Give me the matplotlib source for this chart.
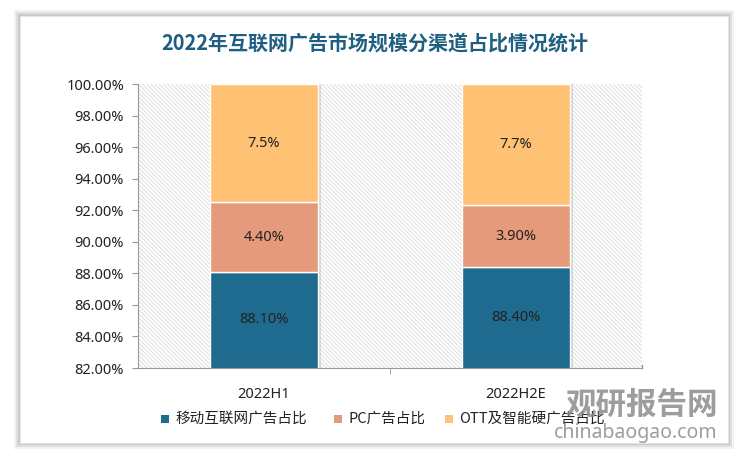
import matplotlib
matplotlib.use("Agg")
import matplotlib.pyplot as plt
from matplotlib.patches import Rectangle
from matplotlib.ticker import FuncFormatter

plt.rcParams['font.family'] = ['Noto Sans CJK SC', 'DejaVu Sans']
plt.rcParams['hatch.linewidth'] = 0.7

categories = ['2022H1', '2022H2E']
mobile = [88.10, 88.40]
pc = [4.40, 3.90]
ott = [7.5, 7.7]
series_names = ['移动互联网广告占比', 'PC广告占比', 'OTT及智能硬广告占比']
colors = ['#1F6B8F', '#E59B7B', '#FFC275']
title = '2022年互联网广告市场规模分渠道占比情况统计'

W, H = 750, 461
fig = plt.figure(figsize=(7.5, 4.61), dpi=100)
fig.patch.set_facecolor('white')

# card with shadow
for i, a in enumerate([0.05, 0.07, 0.10]):
    d = 6 - 2 * i
    fig.patches.append(Rectangle(((20 - d) / W, 1 - (443 + d) / H), (708 + 2 * d) / W,
                                 (427 + 2 * d) / H, transform=fig.transFigure,
                                 facecolor='black', alpha=a, edgecolor='none', zorder=0))
fig.patches.append(Rectangle((20 / W, 1 - 443 / H), 708 / W, 427 / H,
                             transform=fig.transFigure, facecolor='white',
                             edgecolor='#e6e6e6', lw=0.8, zorder=0.5))

ax = fig.add_axes([138 / W, 1 - 368 / H, 504 / W, 284 / H])
ax.set_zorder(2)
ax.patch.set_alpha(0)
x = list(range(len(categories)))
ax.set_xlim(-0.5, len(categories) - 0.5)
ax.set_ylim(82, 100)

# hatched background
ax.add_patch(Rectangle((-0.5, 82), len(categories), 18, facecolor='white',
                       hatch='\\' * 8, edgecolor='#dedede', lw=0, zorder=0))

bw = 0.43
bottoms = [0] * len(categories)
for vals, col, fmt in [(mobile, colors[0], '{:.2f}%'), (pc, colors[1], '{:.2f}%'),
                       (ott, colors[2], '{:.1f}%')]:
    # shadow
    ax.bar([xi + 0.012 for xi in x], vals, bw, bottom=bottoms, color='#bbbbbb',
           alpha=0.5, zorder=1, edgecolor='none')
    ax.bar(x, vals, bw, bottom=bottoms, color=col, edgecolor='white', lw=1.0, zorder=2)
    for xi, v, b in zip(x, vals, bottoms):
        lo = max(b, 82)
        hi = min(b + v, 100)
        ax.text(xi, (lo + hi) / 2, fmt.format(v), ha='center', va='center',
                fontsize=10.5, color='#222222', zorder=3, family=['Noto Sans', 'DejaVu Sans'])
    bottoms = [b + v for b, v in zip(bottoms, vals)]

ax.set_yticks([82 + 2 * i for i in range(10)])
ax.yaxis.set_major_formatter(FuncFormatter(lambda v, p: f'{v:.2f}%'))
ax.set_xticks(x)
ax.set_xticklabels(categories)
ax.set_xticks([0.5], minor=True)
ax.tick_params(axis='x', which='major', length=0, pad=14, labelsize=10.5, labelcolor='#222222')
ax.tick_params(axis='x', which='minor', length=4, color='#999999')
ax.tick_params(axis='y', length=4, color='#999999', labelsize=10.5, labelcolor='#222222', pad=6)
for lab in ax.get_xticklabels() + ax.get_yticklabels():
    lab.set_family(['Noto Sans', 'DejaVu Sans'])
for s in ['top', 'right']:
    ax.spines[s].set_visible(False)
ax.spines['left'].set_color('#999999')
ax.spines['bottom'].set_color('#999999')
ax.plot([1.5, 1.5], [82, 82.2], color='#999999', lw=1, clip_on=False)

fig.text(375 / W, 1 - 43 / H, title, ha='center', va='center', fontsize=14.4,
         fontweight='bold', color='#1F5F82')

# legend
leg_items = [(165, 175, series_names[0]), (338, 348, series_names[1]), (449, 459, series_names[2])]
for (mx, tx, name), col in zip(leg_items, colors):
    fig.patches.append(Rectangle(((mx - 4) / W, 1 - 423 / H), 8 / W, 8 / H,
                                 transform=fig.transFigure, facecolor=col, edgecolor='none', zorder=3))
    fig.text(tx / W, 1 - 419 / H, name, ha='left', va='center', fontsize=10.5, color='#222222', zorder=3)

# watermark
fig.text(642 / W, 1 - 405 / H, '观研报告网', ha='center', va='center', fontsize=22,
         fontweight='bold', color='#8c8c8c', alpha=0.85, zorder=4)
fig.text(636 / W, 1 - 433 / H, 'chinabaogao.com', ha='center', va='center', fontsize=14,
         color='#8c8c8c', alpha=0.85, zorder=4, family=['Noto Sans', 'DejaVu Sans'])

fig.savefig('out.png', dpi=100)
